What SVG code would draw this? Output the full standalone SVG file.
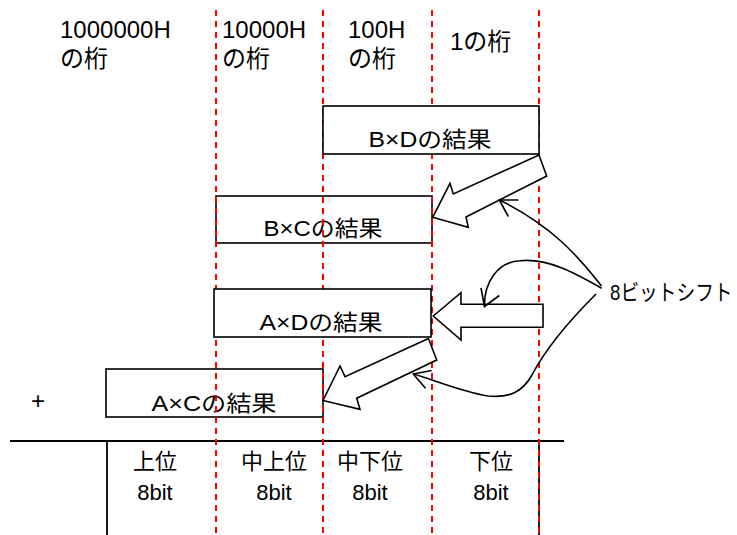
<svg xmlns="http://www.w3.org/2000/svg" width="737" height="535" viewBox="0 0 737 535">
<style>
text{font-family:"Liberation Sans","Noto Sans CJK JP",sans-serif;fill:#000}
.top{font-size:24px}
.lbl{font-size:22px;text-anchor:middle}
.box{stroke:#000;stroke-width:1.6}
.dash{stroke:#ff0000;stroke-width:2;stroke-dasharray:6 5;fill:none}
.blk{fill:#fff;stroke:#000;stroke-width:1.6;stroke-linejoin:miter}
.cv{fill:none;stroke:#000;stroke-width:1.6}
.ln{stroke:#000;stroke-width:1.8;fill:none}
</style>
<rect width="737" height="535" fill="#fff"/>
<g id="heading-labels">
<text class="top" x="60" y="38">1000000H</text>
<text class="top" x="60" y="67">の桁</text>
<text class="top" x="222" y="38">10000H</text>
<text class="top" x="222" y="67">の桁</text>
<text class="top" x="348" y="38">100H</text>
<text class="top" x="348" y="67">の桁</text>
<text class="top" x="450" y="50">1の桁</text>
</g>
<g id="node-BxC">
<rect class="box" x="216" y="196" width="216" height="47" fill="none"/>
<text class="lbl" x="323" y="236" textLength="119" lengthAdjust="spacingAndGlyphs">B×Cの結果</text>
</g>
<g id="node-AxC">
<rect class="box" x="106" y="369" width="217" height="48" fill="none"/>
<text class="lbl" x="214" y="411" textLength="125" lengthAdjust="spacingAndGlyphs">A×Cの結果</text>
</g>
<g id="table">
<line class="ln" x1="10" y1="441" x2="564" y2="441"/>
<line class="ln" x1="107" y1="441" x2="107" y2="535"/>
<line class="ln" x1="539" y1="441" x2="539" y2="535"/>
<text x="38" y="409" font-size="24" text-anchor="middle">+</text>
<text class="lbl" x="155" y="469">上位</text>
<text class="lbl" x="155" y="500">8bit</text>
<text class="lbl" x="274" y="469">中上位</text>
<text class="lbl" x="274" y="500">8bit</text>
<text class="lbl" x="370" y="469">中下位</text>
<text class="lbl" x="370" y="500">8bit</text>
<text class="lbl" x="491" y="469">下位</text>
<text class="lbl" x="491" y="500">8bit</text>
</g>
<g id="digit-lines">
<line class="dash" x1="216" y1="10" x2="216" y2="535"/>
<line class="dash" x1="323" y1="10" x2="323" y2="535"/>
<line class="dash" x1="432" y1="10" x2="432" y2="535"/>
<line class="dash" x1="539" y1="10" x2="539" y2="535"/>
</g>
<g id="node-BxD">
<rect class="box" x="323" y="106" width="216" height="48" fill="#fff"/>
<text class="lbl" x="430" y="147" textLength="123" lengthAdjust="spacingAndGlyphs">B×Dの結果</text>
</g>
<g id="node-AxD">
<rect class="box" x="214" y="289" width="217" height="48" fill="#fff"/>
<text class="lbl" x="321" y="330" textLength="123" lengthAdjust="spacingAndGlyphs">A×Dの結果</text>
</g>
<g id="node-shift-label">
<text transform="translate(610,300) scale(0.85,1)" x="0" y="0" font-size="22">8ビットシフト</text>
</g>
<g id="connectors">
<polygon class="blk" points="539,155 453.3,194 450,183.3 432.7,217.3 468.3,227.3 466,217 546.7,176"/>
<polygon class="blk" points="433.3,316 461,292.7 461,304.3 543,304.3 543,327.3 461,327.3 461,340"/>
<polygon class="blk" points="428.5,338.5 345,376.7 340,366 323,400.5 360,409.3 356.7,398.3 436.7,360"/>
<path class="cv" d="M601.5,286 C578,256 552,226 499.5,200"/>
<polyline class="cv" points="518.3,200 499.3,200 508.3,216.5"/>
<path class="cv" d="M601.7,288.3 C575,273 548,258 520,260.7 C497,262 484,283 484.5,306.5"/>
<polyline class="cv" points="481,288 484.5,306.5 499.3,295.5"/>
<path class="cv" d="M596,294 C565,325 545,350 532,375 C522,393 508,398 488,396 C462,392 432,379 413.3,374"/>
<polyline class="cv" points="431.7,370.5 413.3,374 425.5,388.3"/>
</g>
</svg>
